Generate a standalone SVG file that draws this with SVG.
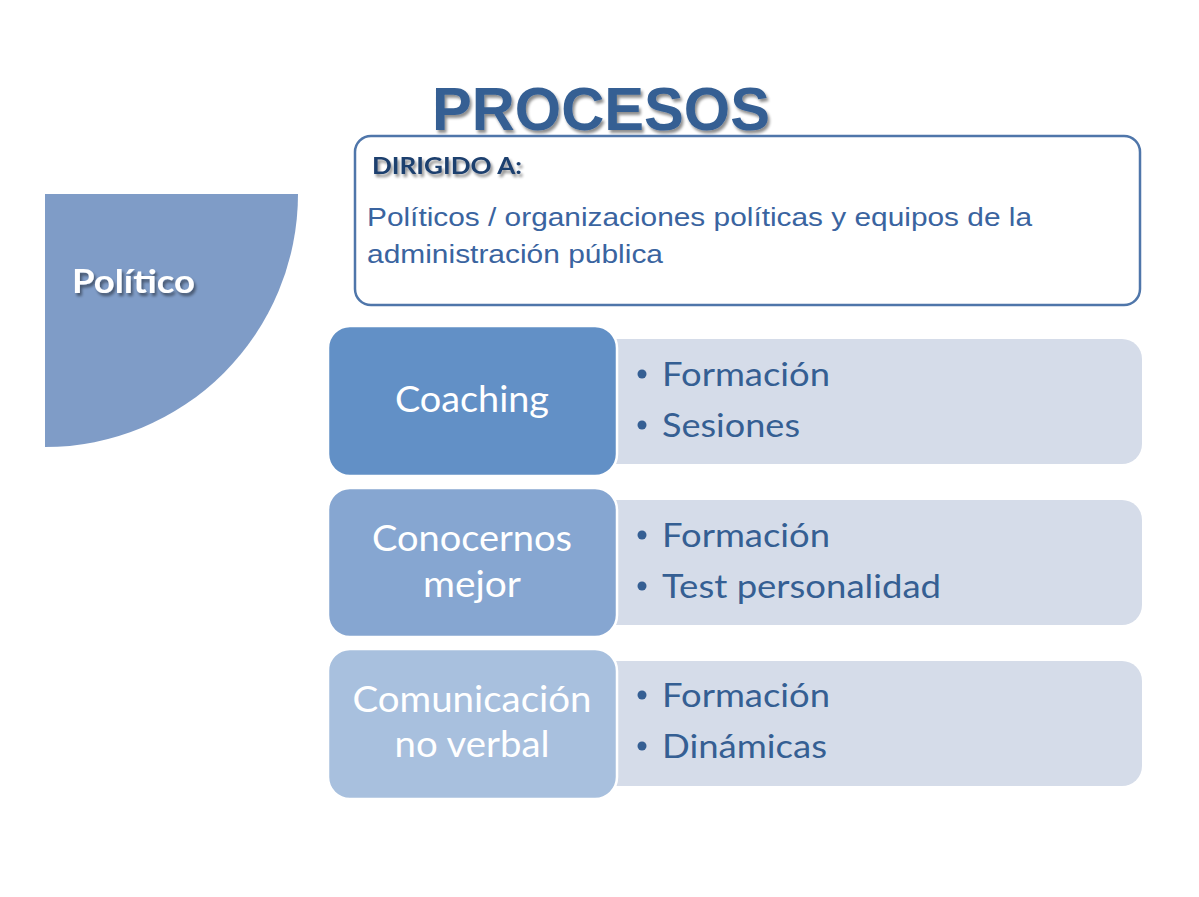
<svg xmlns="http://www.w3.org/2000/svg" width="1199" height="897" viewBox="0 0 1199 897">
<defs>
<filter id="sh" x="-10%" y="-20%" width="130%" height="150%">
<feGaussianBlur in="SourceAlpha" stdDeviation="1.5"/>
<feOffset dx="2" dy="3" result="b"/>
<feComponentTransfer><feFuncA type="linear" slope="0.45"/></feComponentTransfer>
<feMerge><feMergeNode/><feMergeNode in="SourceGraphic"/></feMerge>
</filter>
</defs>
<style>
.cal{font-family:Lato,"Open Sans","Noto Sans",sans-serif}
.head{fill:#ffffff;font-size:36px;text-anchor:middle}
.item{fill:#355f93;font-size:33px}
.dot{fill:#355f93}
.right{fill:#d5dce9}
.left{stroke:#ffffff;stroke-width:2.5}
</style>
<rect width="1199" height="897" fill="#ffffff"/>
<g id="title">
<text x="432" y="130" font-family="Liberation Sans,Arial,sans-serif" font-weight="bold" font-size="61" fill="#355f93" textLength="338" lengthAdjust="spacingAndGlyphs" filter="url(#sh)">PROCESOS</text>
</g>
<g id="dirigido">
<rect x="355" y="136" width="785" height="169" rx="16" fill="#ffffff" stroke="#4f76aa" stroke-width="2.5"/>
<text x="372" y="174" class="cal" font-weight="bold" font-size="22" fill="#1f3f6e" textLength="150" lengthAdjust="spacingAndGlyphs" filter="url(#sh)">DIRIGIDO A:</text>
<text x="367" y="226" font-family="Liberation Sans,Arial,sans-serif" font-size="25" fill="#3a64a0" textLength="665" lengthAdjust="spacingAndGlyphs">Políticos / organizaciones políticas y equipos de la</text>
<text x="367" y="263" font-family="Liberation Sans,Arial,sans-serif" font-size="25" fill="#3a64a0" textLength="296" lengthAdjust="spacingAndGlyphs">administración pública</text>
</g>
<g id="politico">
<path d="M45 194 H298 A253 253 0 0 1 45 447 Z" fill="#7f9cc7"/>
<text x="72" y="293" class="cal" font-weight="bold" font-size="32" fill="#ffffff" textLength="123" lengthAdjust="spacingAndGlyphs" filter="url(#sh)">Político</text>
</g>
<g id="connectors"></g>
<g id="coaching">
<path class="right" d="M610 339 H1122 A20 20 0 0 1 1142 359 V444 A20 20 0 0 1 1122 464 H610 Z"/>
<rect class="left" x="328" y="326" width="289" height="150" rx="22" fill="#6290c6"/>
<text x="472" y="412" class="cal head" textLength="154" lengthAdjust="spacingAndGlyphs">Coaching</text>
<circle class="dot" cx="642" cy="374" r="4.5"/>
<text x="662" y="386" class="cal item" textLength="168" lengthAdjust="spacingAndGlyphs">Formación</text>
<circle class="dot" cx="642" cy="425" r="4.5"/>
<text x="662" y="437" class="cal item" textLength="138" lengthAdjust="spacingAndGlyphs">Sesiones</text>
</g>
<g id="conocernos">
<path class="right" d="M610 500 H1122 A20 20 0 0 1 1142 520 V605 A20 20 0 0 1 1122 625 H610 Z"/>
<rect class="left" x="328" y="488" width="289" height="149" rx="22" fill="#86a6d1"/>
<text x="472" y="551" class="cal head" textLength="200" lengthAdjust="spacingAndGlyphs">Conocernos</text>
<text x="472" y="597" class="cal head" textLength="98" lengthAdjust="spacingAndGlyphs">mejor</text>
<circle class="dot" cx="642" cy="535" r="4.5"/>
<text x="662" y="547" class="cal item" textLength="168" lengthAdjust="spacingAndGlyphs">Formación</text>
<circle class="dot" cx="642" cy="586" r="4.5"/>
<text x="662" y="598" class="cal item" textLength="279" lengthAdjust="spacingAndGlyphs">Test personalidad</text>
</g>
<g id="comunicacion">
<path class="right" d="M610 661 H1122 A20 20 0 0 1 1142 681 V766 A20 20 0 0 1 1122 786 H610 Z"/>
<rect class="left" x="328" y="649" width="289" height="150" rx="22" fill="#a8c0de"/>
<text x="472" y="712" class="cal head" textLength="239" lengthAdjust="spacingAndGlyphs">Comunicación</text>
<text x="472" y="757" class="cal head" textLength="155" lengthAdjust="spacingAndGlyphs">no verbal</text>
<circle class="dot" cx="642" cy="695" r="4.5"/>
<text x="662" y="707" class="cal item" textLength="168" lengthAdjust="spacingAndGlyphs">Formación</text>
<circle class="dot" cx="642" cy="746" r="4.5"/>
<text x="662" y="758" class="cal item" textLength="165" lengthAdjust="spacingAndGlyphs">Dinámicas</text>
</g>
</svg>
